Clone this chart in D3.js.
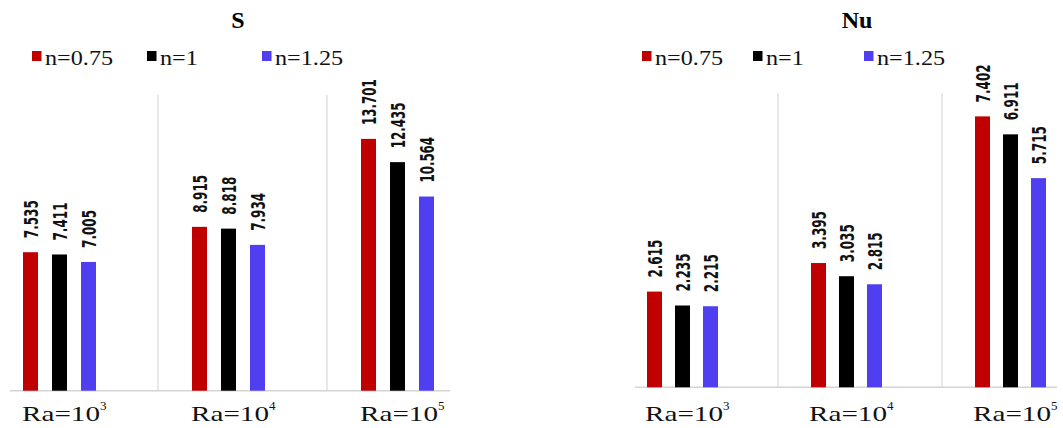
<!DOCTYPE html>
<html><head><meta charset="utf-8">
<script src="https://cdn.jsdelivr.net/npm/d3@7"></script>
<style>body{margin:0;background:#fff}svg{display:block}</style>
</head><body>
<svg id="c" width="1063" height="428"></svg>
<script>
const categories = ["3", "4", "5"];           // Ra = 10^k
const seriesNames = ["n=0.75", "n=1", "n=1.25"];
const seriesColors = ["#c00000", "#000000", "#4f3ff0"];
const S_values = [
  [7.535, 8.915, 13.701],   // n=0.75
  [7.411, 8.818, 12.435],   // n=1
  [7.005, 7.934, 10.564]    // n=1.25
];
const Nu_values = [
  [2.615, 3.395, 7.402],
  [2.235, 3.035, 6.911],
  [2.215, 2.815, 5.715]
];
const S_labels = [["7.535","8.915","13.701"],["7.411","8.818","12.435"],["7.005","7.934","10.564"]];
const Nu_labels = [["2.615","3.395","7.402"],["2.235","3.035","6.911"],["2.215","2.815","5.715"]];

// font availability detection
const cv = document.createElement("canvas").getContext("2d");
function has(name, weight){
  const s = "mmmmmmmmmmlli1WQ0.75=";
  for (const fb of ["monospace","serif","sans-serif"]) {
    cv.font = `${weight||"normal"} 40px ${fb}`; const a = cv.measureText(s).width;
    cv.font = `${weight||"normal"} 40px '${name}', ${fb}`; const b = cv.measureText(s).width;
    if (Math.abs(a-b) > 0.5) return true;
  }
  return false;
}
function pick(list, weight, fallback){
  for (const n of list) if (has(n, weight)) return `'${n}'`;
  return fallback;
}
const SERIF = pick(["Liberation Serif","Times New Roman","Tinos","Nimbus Roman","DejaVu Serif"], "normal", "serif");
const NARROW_LIST = ["Liberation Sans Narrow","Arial Narrow","DejaVu Sans Condensed","Roboto Condensed"];
let NARROW = null;
for (const n of NARROW_LIST) if (has(n, "bold")) { NARROW = `'${n}'`; break; }
const LABEL_FONT = NARROW || pick(["Liberation Sans","Arial","Roboto","DejaVu Sans"], "bold", "sans-serif");

const svg = d3.select("#c");

function panel(cfg){
  const g = svg.append("g");
  const x = d3.scaleBand().domain(categories).range(cfg.xRange);
  const xs = d3.scalePoint().domain(seriesNames).range(cfg.inner);
  const y = d3.scaleLinear().domain([0, cfg.yMax]).range([cfg.base, cfg.yTop]);
  const bw = 15;

  // title
  g.append("text").attr("x", cfg.titleX).attr("y", 28).attr("text-anchor","middle")
    .attr("font-family", SERIF).attr("font-weight","bold")
    .attr("font-size", 24).attr("fill","#000").text(cfg.title);

  // legend
  seriesNames.forEach((s,i)=>{
    const lx = cfg.legX[i];
    g.append("rect").attr("x", lx).attr("y", 51).attr("width", 9.5).attr("height", 10).attr("fill", seriesColors[i]);
    const t = g.append("text").attr("x", lx + 13).attr("y", 64.5)
      .attr("font-family", SERIF).attr("font-size", 22)
      .attr("fill","#111").text(s);
    const w = t.node().getComputedTextLength();
    t.attr("textLength", w*cfg.legStretch).attr("lengthAdjust","spacingAndGlyphs");
  });

  // dividers
  categories.slice(1).forEach(c=>{
    g.append("line").attr("x1", x(c)).attr("x2", x(c)).attr("y1", cfg.divTop).attr("y2", cfg.base)
      .attr("stroke","#d9d9d9").attr("stroke-width",1.2);
  });
  // axis line
  g.append("line").attr("x1", cfg.axisX[0]).attr("x2", cfg.axisX[1]).attr("y1", cfg.base).attr("y2", cfg.base)
    .attr("stroke","#d4d4d4").attr("stroke-width",1.6);

  // bars
  cfg.values.forEach((arr, si)=>{
    arr.forEach((v, ci)=>{
      const bx = x(categories[ci]) + xs(seriesNames[si]);
      g.append("rect").attr("x", bx).attr("y", y(v)).attr("width", bw).attr("height", cfg.base - y(v))
        .attr("fill", seriesColors[si]);
      const t = g.append("text")
        .attr("transform", `translate(${bx + bw/2 + 0.5},${y(v) - 14}) rotate(-90)`)
        .attr("dy","0.36em")
        .attr("font-family", LABEL_FONT)
        .attr("font-weight","bold").attr("font-size", 20).attr("fill","#111")
        .text(cfg.labels[si][ci]);
      // condense to match the narrow bold label face
      const target = cfg.labels[si][ci].length * 7.6;
      const w = t.node().getComputedTextLength();
      if (w > target + 1) t.attr("textLength", target).attr("lengthAdjust","spacingAndGlyphs");
    });
  });

  // category labels
  categories.forEach((c, ci)=>{
    const t = g.append("text").attr("x", x(c) + cfg.catOff).attr("y", 421)
      .attr("font-family", SERIF).attr("font-size", 22).attr("fill","#111");
    const base = t.append("tspan").text("Ra=10");
    base.attr("textLength", 78).attr("lengthAdjust","spacingAndGlyphs");
    t.append("tspan").attr("dy", -11).attr("font-size", 13).text(c);
  });
}

panel({title:"S", titleX:238, values:S_values, labels:S_labels,
  xRange:[-11, 496], inner:[34, 92], yMax:15, base:390.7, yTop:390.7-15*18.38,
  divTop:95, axisX:[10, 450], legX:[32, 147, 262], catOff:33, legStretch:1.1});
panel({title:"Nu", titleX:857, values:Nu_values, labels:Nu_labels,
  xRange:[614, 1106], inner:[33, 89], yMax:8, base:387.3, yTop:387.3-8*36.6,
  divTop:93, axisX:[635, 1057], legX:[642, 753, 864], catOff:31, legStretch:1.1});
</script>
</body></html>
